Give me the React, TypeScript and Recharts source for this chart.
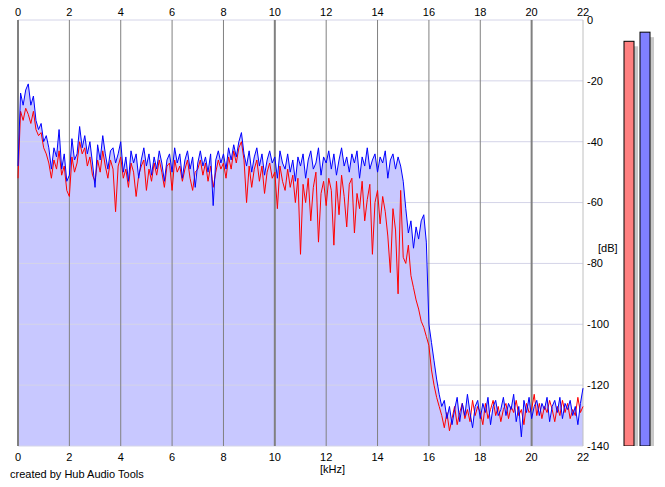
import React from 'react';
import {
  ComposedChart,
  Area,
  Line,
  XAxis,
  YAxis,
  ReferenceLine,
  BarChart,
  Bar,
  Cell,
} from 'recharts';

// spectrum sampled every 0.1 kHz from 0 to 22 kHz
const STEP_KHZ = 0.1;

const blueDb = [
  -48, -24, -28, -23, -21, -28, -25, -33, -36, -34,
  -40, -38, -42, -49, -42, -45, -36, -49, -44, -53,
  -51, -39, -46, -44, -35, -42, -38, -44, -40, -47,
  -55, -41, -46, -38, -44, -49, -43, -42, -47, -44,
  -40, -50, -45, -53, -43, -47, -44, -52, -46, -42,
  -48, -44, -51, -45, -49, -43, -47, -53, -46, -44,
  -50, -42, -47, -44, -52, -46, -43, -49, -45, -55,
  -47, -43, -48, -45, -50, -44, -61, -46, -43, -47,
  -44, -49, -42, -46, -41, -45, -40, -37, -44, -48,
  -43, -50, -45, -42, -48, -44, -51, -46, -43, -47,
  -45, -52, -43, -47, -49, -44, -50, -46, -53, -45,
  -48, -44, -52, -46, -43, -49, -47, -42, -51, -45,
  -47, -43, -49, -44, -51, -46, -42, -48, -45, -50,
  -44, -47, -43, -52, -45, -48, -42, -49, -46, -44,
  -50, -45, -47, -43, -52, -46, -44, -49, -45, -48,
  -53, -62, -70, -66, -75, -68, -72, -66, -64, -73,
  -100, -106, -112, -118, -123, -127, -125, -131, -127, -133,
  -128, -124, -132, -126, -130, -123, -129, -134, -127, -125,
  -131, -126, -129, -124, -133, -127, -125, -130, -128, -124,
  -130, -126, -128, -123, -132, -127, -137, -125, -129, -124,
  -131, -127, -125, -130, -126, -128, -124, -132, -127, -125,
  -129, -124, -131, -126, -128, -125, -130, -127, -133, -126,
  -121,
];

const redDb = [
  -52, -30, -33, -29, -31, -34, -30, -36, -38, -37,
  -42, -44, -47, -52, -46, -49, -43, -51, -48, -56,
  -58, -45, -50, -47, -40, -44, -42, -48, -45, -51,
  -53, -46, -50, -43, -48, -52, -46, -49, -63, -48,
  -45, -52, -49, -55, -47, -50, -58, -51, -48, -46,
  -56, -49, -53, -47, -51, -46, -50, -55, -48, -47,
  -56, -46, -50, -48, -53, -49, -46, -52, -56, -50,
  -49, -46, -51, -47, -53, -48, -55, -50, -46, -49,
  -47, -52, -45, -49, -43, -47, -42, -40, -46, -60,
  -48, -55, -49, -46, -53, -48, -57, -50, -47, -52,
  -50, -62, -48, -53, -56, -49, -55, -51, -60, -52,
  -77, -54, -60, -52, -66, -55, -50, -73, -57, -53,
  -61, -52, -56, -74, -53, -64, -51, -58, -68, -54,
  -52, -70, -57, -62, -53, -66, -59, -54, -77, -60,
  -56, -67, -58, -63, -71, -83, -62, -69, -90, -56,
  -78, -80, -74, -84, -88, -92, -95, -99, -101, -104,
  -107, -115, -120, -124, -127, -130, -134, -129, -135, -131,
  -127, -133, -129, -126, -131, -128, -132, -125, -130, -127,
  -129, -133, -126, -131, -128, -125, -130, -127, -132, -128,
  -126, -131, -127, -129, -125, -130, -128, -133, -126, -129,
  -128, -123, -130, -126, -131, -127, -129, -125, -128, -132,
  -127, -130, -125, -129, -126, -131, -128, -130, -124, -129,
  -127,
];

const kHzTicks = [0, 2, 4, 6, 8, 10, 12, 14, 16, 18, 20, 22];
const dbTicks = [0, -20, -40, -60, -80, -100, -120, -140];
const DB_FLOOR = -140;

// level meters (left = red channel, right = blue channel), dB
const meterChannels = ['L', 'R'];
const meterLevels = [-7, -4];
const meterColors = ['#ff8080', '#8080ff'];

const data = blueDb.map((b, i) => ({
  khz: Math.round(i * STEP_KHZ * 10) / 10,
  blue: b,
  red: redDb[i],
}));

// range bars: from the floor up to the level
const meterData = meterChannels.map((ch, i) => ({ ch, range: [DB_FLOOR, meterLevels[i]] }));

const FONT = '"Liberation Sans", Arial, sans-serif';
const tickStyle = { fill: '#000', fontSize: 11, fontFamily: FONT };

function MeterBar(props: any) {
  const { x, y, width, height, fill } = props;
  if (x == null || y == null) return null;
  const top = height < 0 ? y + height : y;
  const h = Math.abs(height);
  return (
    <g>
      <rect x={x + 4} y={top + 5} width={width} height={h} fill="#c8c8c8" />
      <rect x={x} y={top} width={width} height={h} fill={fill} stroke="#000" strokeWidth={1} />
    </g>
  );
}

export default function App() {
  return (
    <div style={{ position: 'absolute', left: 0, top: 0, width: 665, height: 487, background: '#fff', fontFamily: FONT }}>
      <ComposedChart width={665} height={487} data={data} margin={{ top: 0, right: 0, bottom: 0, left: 18 }}>
        <XAxis
          xAxisId="top"
          orientation="top"
          type="number"
          dataKey="khz"
          domain={[0, 22]}
          ticks={kHzTicks}
          height={20}
          axisLine={false}
          tickLine={false}
          tickSize={0}
          tickMargin={4}
          tick={tickStyle}
          interval={0}
        />
        <XAxis
          xAxisId="bottom"
          orientation="bottom"
          type="number"
          dataKey="khz"
          domain={[0, 22]}
          ticks={kHzTicks}
          height={41}
          axisLine={false}
          tickLine={false}
          tickSize={0}
          tickMargin={7}
          tick={tickStyle}
          interval={0}
        />
        <YAxis
          yAxisId="db"
          orientation="right"
          type="number"
          domain={[DB_FLOOR, 0]}
          ticks={dbTicks}
          width={82}
          axisLine={false}
          tickLine={false}
          tickSize={0}
          tickMargin={4}
          tick={tickStyle}
          interval={0}
          allowDataOverflow
        />
        <Area
          xAxisId="bottom"
          yAxisId="db"
          type="linear"
          dataKey="blue"
          baseValue={DB_FLOOR}
          fill="#c8c8ff"
          fillOpacity={1}
          stroke="none"
          isAnimationActive={false}
        />
        {dbTicks.map((t) => (
          <ReferenceLine key={`h${t}`} xAxisId="bottom" yAxisId="db" y={t} stroke="#d4d4e8" strokeWidth={1} />
        ))}
        {kHzTicks.map((t) => (
          <ReferenceLine
            key={`v${t}`}
            xAxisId="bottom"
            yAxisId="db"
            x={t}
            stroke={t === 22 ? '#c0c0c0' : '#808080'}
            strokeWidth={t % 10 === 0 ? 2 : 1}
          />
        ))}
        <Line
          xAxisId="bottom"
          yAxisId="db"
          type="linear"
          dataKey="red"
          stroke="#ff0000"
          strokeWidth={1}
          dot={false}
          isAnimationActive={false}
        />
        <Line
          xAxisId="bottom"
          yAxisId="db"
          type="linear"
          dataKey="blue"
          stroke="#0000ff"
          strokeWidth={1}
          dot={false}
          isAnimationActive={false}
        />
      </ComposedChart>

      <div style={{ position: 'absolute', left: 600, top: 0, width: 65, height: 487 }}>
        <BarChart
          width={65}
          height={487}
          data={meterData}
          barCategoryGap={6}
          margin={{ top: 20, right: 12, bottom: 41, left: 21 }}
        >
          <XAxis dataKey="ch" hide />
          <YAxis type="number" domain={[DB_FLOOR, 0]} hide allowDataOverflow />
          <Bar dataKey="range" barSize={10} isAnimationActive={false} shape={(p: any) => <MeterBar {...p} />}>
            {meterData.map((d, i) => (
              <Cell key={d.ch} fill={meterColors[i]} />
            ))}
          </Bar>
        </BarChart>
      </div>

      <div style={{ position: 'absolute', left: 598, top: 242, fontSize: 11, color: '#000' }}>[dB]</div>
      <div style={{ position: 'absolute', left: 320, top: 463, fontSize: 11, color: '#000' }}>[kHz]</div>
      <div style={{ position: 'absolute', left: 10, top: 468, fontSize: 11, color: '#000' }}>created by Hub Audio Tools</div>
    </div>
  );
}
